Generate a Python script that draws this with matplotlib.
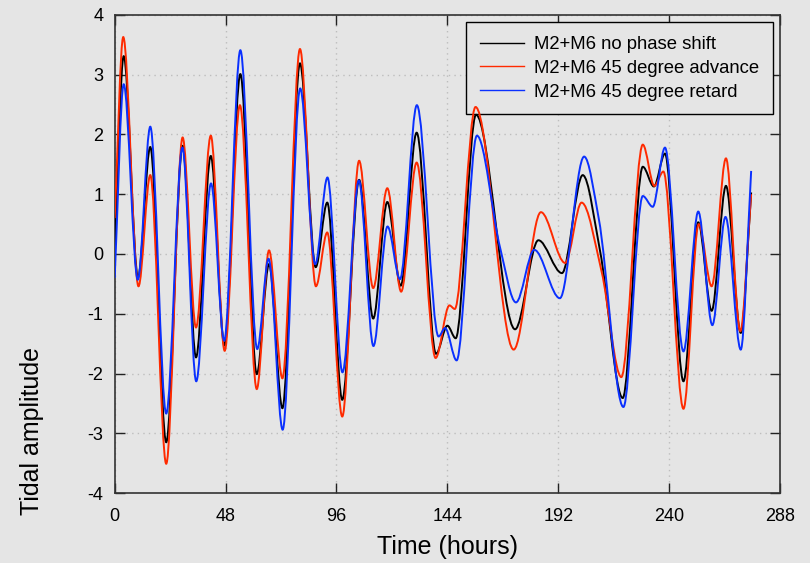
import numpy as np
import matplotlib
matplotlib.use("Agg")
import matplotlib.pyplot as plt
from matplotlib.path import Path
from matplotlib.patches import PathPatch
from matplotlib.lines import Line2D

# turning points: time (hours) and amplitude
T_NOSHIFT = [0, 3.9, 10.1, 15.4, 22.3, 29.4, 35.2, 41.6, 47.5, 54.4, 61.5, 66.8,
             72.6, 80.2, 87.0, 92.0, 98.5, 105.8, 111.9, 118.0, 123.8, 130.7,
             139.1, 144.0, 147.6, 156.4, 173.3, 183.4, 193.6, 202.6, 210.1,
             219.9, 228.6, 233.4, 238.2, 246.2, 252.6, 258.4, 264.6, 271.0, 275.5]
A_NOSHIFT = [0.1, 3.31, -0.39, 1.79, -3.15, 1.81, -1.73, 1.64, -1.53, 3.01, -2.01, -0.17,
             -2.58, 3.19, -0.22, 0.86, -2.44, 1.24, -1.08, 0.87, -0.53, 2.03,
             -1.67, -1.20, -1.41, 2.33, -1.26, 0.23, -0.32, 1.32, 0.05,
             -2.41, 1.46, 1.13, 1.68, -2.13, 0.53, -0.95, 1.14, -1.32, 1.03]

T_ADVANCE = [0, 3.7, 10.3, 15.4, 22.3, 29.4, 35.2, 41.6, 47.6, 54.2, 61.5, 66.8,
             72.6, 80.2, 87.1, 92.0, 98.5, 105.8, 111.9, 118.0, 124.0, 130.7,
             138.9, 144.9, 147.2, 156.2, 172.7, 184.5, 195.0, 202.1, 210.8,
             219.3, 228.6, 233.6, 237.5, 246.2, 252.8, 258.4, 264.6, 270.8, 275.5]
A_ADVANCE = [0.6, 3.63, -0.54, 1.32, -3.51, 1.95, -1.23, 1.98, -1.62, 2.49, -2.26, 0.06,
             -2.08, 3.43, -0.54, 0.36, -2.72, 1.56, -0.57, 1.10, -0.63, 1.53,
             -1.74, -0.86, -0.92, 2.46, -1.60, 0.70, -0.15, 0.86, -0.30,
             -2.06, 1.83, 1.14, 1.38, -2.59, 0.50, -0.54, 1.60, -1.29, 1.00]

T_RETARD = [0, 3.9, 10.0, 15.4, 22.3, 29.3, 35.3, 41.7, 47.4, 54.4, 61.7, 66.6,
            72.7, 80.3, 86.8, 92.1, 98.6, 105.7, 112.0, 118.1, 123.5, 130.8,
            140.2, 143.0, 148.0, 156.8, 166.8, 173.7, 181.6, 192.7, 203.2, 209.5,
            220.2, 228.6, 232.9, 238.2, 246.2, 252.6, 258.7, 264.4, 271.0, 275.5]
A_RETARD = [-0.4, 2.84, -0.43, 2.13, -2.67, 1.78, -2.13, 1.18, -1.45, 3.41, -1.59, -0.08,
            -2.94, 2.77, -0.17, 1.28, -1.98, 1.23, -1.54, 0.46, -0.42, 2.49,
            -1.38, -1.24, -1.78, 1.98, 0.11, -0.81, 0.07, -0.74, 1.63, 0.60,
            -2.56, 0.97, 0.79, 1.78, -1.63, 0.71, -1.19, 0.62, -1.60, 1.39]

LABELS = ["M2+M6 no phase shift", "M2+M6 45 degree advance", "M2+M6 45 degree retard"]
COLORS = ["black", "#ff2a00", "#0a30ff"]
BG = "#e5e5e5"


def smooth_path(t, a):
    # monotone cubic through the read points, drawn as bezier segments
    x = np.asarray(t, float)
    y = np.asarray(a, float)
    h = np.diff(x)
    d = np.diff(y) / h
    m = np.zeros_like(y)
    for i in range(1, len(y) - 1):
        if d[i - 1] * d[i] > 0:
            w1 = 2 * h[i] + h[i - 1]
            w2 = h[i] + 2 * h[i - 1]
            m[i] = (w1 + w2) / (w1 / d[i - 1] + w2 / d[i])
    m[0] = d[0]
    m[-1] = d[-1]
    verts = [(x[0], y[0])]
    codes = [Path.MOVETO]
    for i in range(len(h)):
        verts += [(x[i] + h[i] / 3, y[i] + m[i] * h[i] / 3),
                  (x[i + 1] - h[i] / 3, y[i + 1] - m[i + 1] * h[i] / 3),
                  (x[i + 1], y[i + 1])]
        codes += [Path.CURVE4] * 3
    return Path(verts, codes)


plt.rcParams["font.family"] = ["Liberation Sans", "DejaVu Sans"]
plt.rcParams["axes.unicode_minus"] = False

fig = plt.figure(figsize=(8.1, 5.63), dpi=100, facecolor=BG)
ax = fig.add_axes([0.1416, 0.1243, 0.8214, 0.8491], facecolor=BG)

series = [(T_NOSHIFT, A_NOSHIFT), (T_ADVANCE, A_ADVANCE), (T_RETARD, A_RETARD)]
handles = []
for (t, a), col, lab in zip(series, COLORS, LABELS):
    ax.add_patch(PathPatch(smooth_path(t, a), fill=False, edgecolor=col,
                           lw=1.4, zorder=6))
    handles.append(Line2D([], [], color=col, lw=1.0, label=lab))

ax.set_xlim(0, 288)
ax.set_ylim(-4, 4)
ax.set_xticks(np.arange(0, 289, 48))
ax.set_yticks(np.arange(-4, 5, 1))
ax.tick_params(direction="in", length=7, width=1, top=True, right=True,
               labelsize=13, pad=8, color="#222222")
ax.tick_params(axis="x", pad=11)
ax.grid(True, color="#bdbdbd", linestyle=(0, (1, 3)), lw=1)
for s in ax.spines.values():
    s.set_color("#333333")
    s.set_linewidth(1.2)

ax.set_xlabel("Time (hours)", fontsize=18, labelpad=7)
ax.set_ylabel("Tidal amplitude", fontsize=18)
ax.yaxis.set_label_coords(-0.107, 0.13)

leg = ax.legend(handles=handles, loc="upper right", fontsize=13.3,
                frameon=True, fancybox=False, facecolor=BG, edgecolor="black",
                framealpha=1, handlelength=2.35, handletextpad=0.55,
                labelspacing=0.36, borderaxespad=0.4, borderpad=0.75)
leg.get_frame().set_linewidth(1.0)
leg.set_zorder(5)

fig.savefig("out.png", dpi=100, facecolor=BG)
